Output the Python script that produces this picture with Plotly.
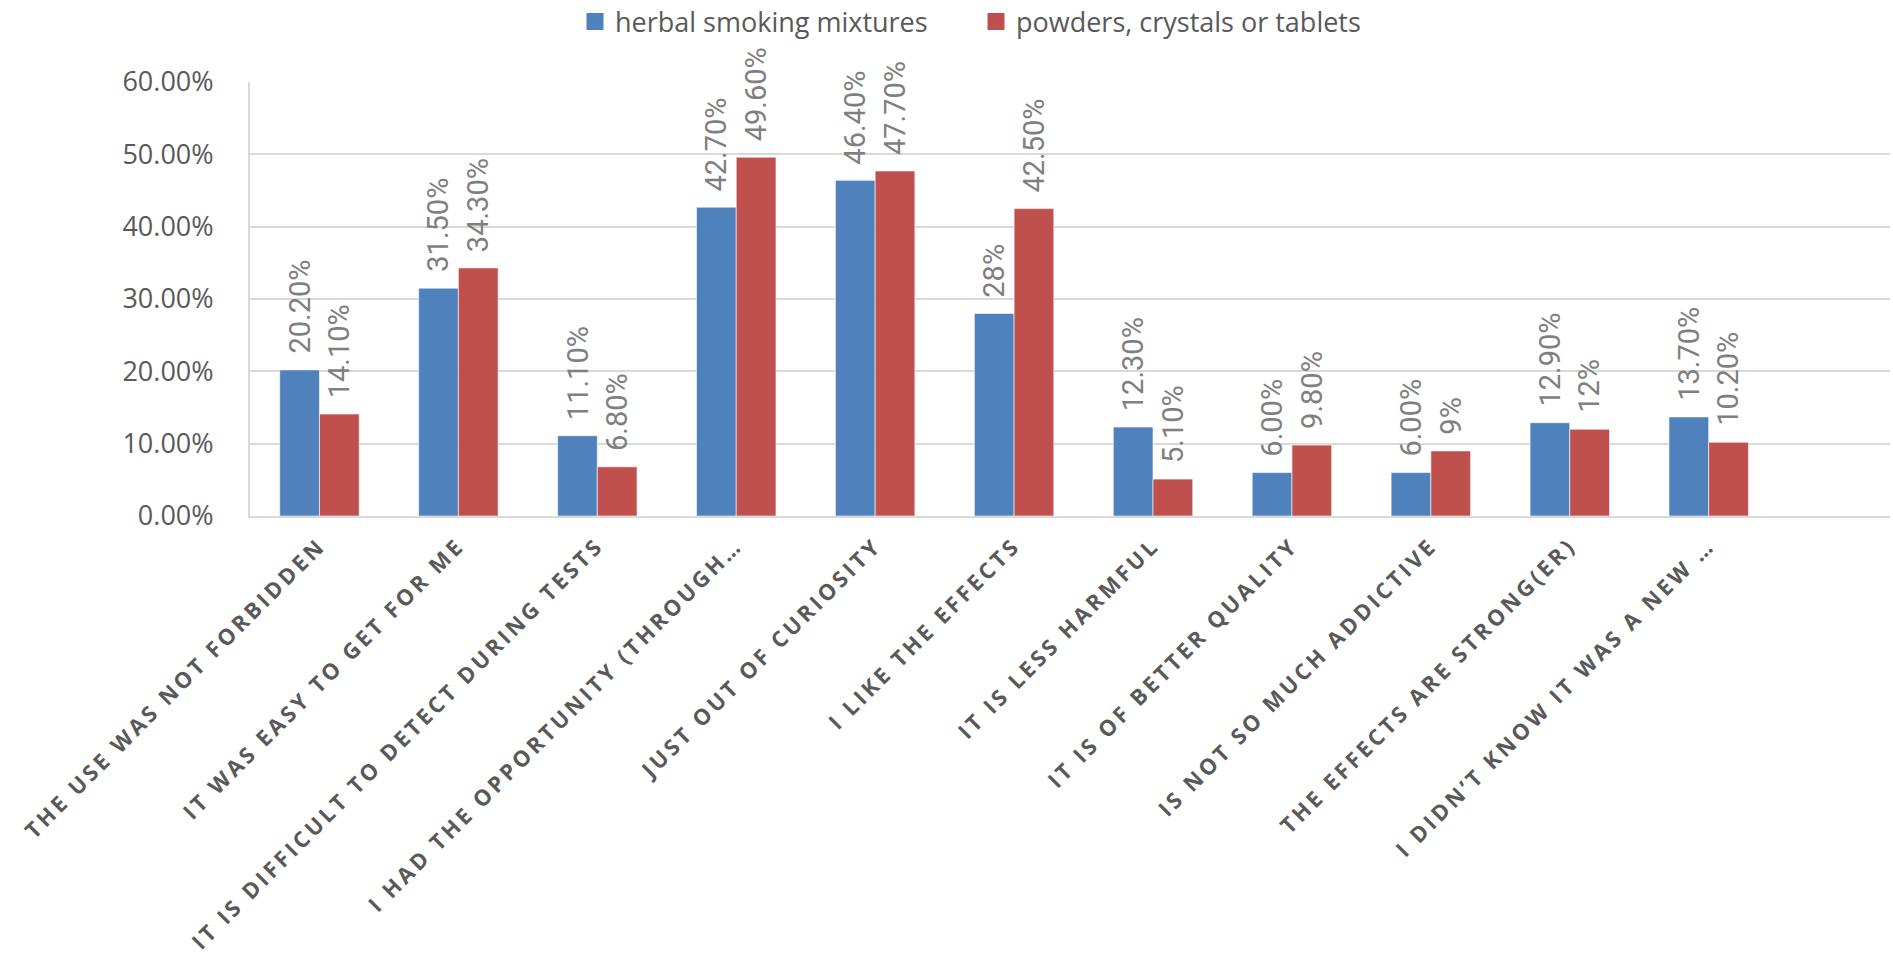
import plotly.graph_objects as go

categories = [
    "THE USE WAS NOT FORBIDDEN",
    "IT WAS EASY TO GET FOR ME",
    "IT IS DIFFICULT TO DETECT DURING TESTS",
    "I HAD THE OPPORTUNITY (THROUGH…",
    "JUST OUT OF CURIOSITY",
    "I LIKE THE EFFECTS",
    "IT IS LESS HARMFUL",
    "IT IS OF BETTER QUALITY",
    "IS NOT SO MUCH ADDICTIVE",
    "THE EFFECTS ARE STRONG(ER)",
    "I DIDN’T KNOW IT WAS A NEW …",
]
herbal = [0.202, 0.315, 0.111, 0.427, 0.464, 0.28, 0.123, 0.06, 0.06, 0.129, 0.137]
herbal_labels = ["20.20%", "31.50%", "11.10%", "42.70%", "46.40%", "28%",
                 "12.30%", "6.00%", "6.00%", "12.90%", "13.70%"]
powders = [0.141, 0.343, 0.068, 0.496, 0.477, 0.425, 0.051, 0.098, 0.09, 0.12, 0.102]
powders_labels = ["14.10%", "34.30%", "6.80%", "49.60%", "47.70%", "42.50%",
                  "5.10%", "9.80%", "9%", "12%", "10.20%"]
series_names = ["herbal smoking mixtures", "powders, crystals or tablets"]

BLUE = "#4F81BD"
RED = "#C0504D"
W, H = 1893, 961
L, R, T, B = 250, 3, 82, 445
plot_w = W - L - R
plot_h = H - T - B

fig = go.Figure()
for vals, name, col in ((herbal, series_names[0], BLUE), (powders, series_names[1], RED)):
    fig.add_trace(go.Bar(
        x=categories, y=vals, name=name,
        marker=dict(color=col, line=dict(color="rgba(255,255,255,0.6)", width=1)),
        showlegend=False, hoverinfo="skip",
    ))

# legend entries (square swatches)
for name, col, lg in ((series_names[0], BLUE, "legend"), (series_names[1], RED, "legend2")):
    fig.add_trace(go.Scatter(
        x=[None], y=[None], mode="markers", name=name,
        marker=dict(symbol="square", size=14, color=col, line=dict(width=3, color=col)),
        legend=lg, hoverinfo="skip",
    ))

# data labels
cat_px = plot_w / 11.805
bar_px = cat_px * (1 - 0.428) / 2
label_font = dict(family="Liberation Sans Narrow, Roboto, sans-serif", size=29, color="#7F7F7F")
annotations = []
for vals, labs, sgn in ((herbal, herbal_labels, -1), (powders, powders_labels, 1)):
    for c, v, t in zip(categories, vals, labs):
        annotations.append(dict(
            x=c, y=v, xref="x", yref="y", text=t, showarrow=False,
            textangle=-90, xanchor="center", yanchor="bottom",
            xshift=sgn * bar_px / 2, yshift=14, font=label_font,
        ))

legend_common = dict(
    orientation="h", yanchor="middle", xanchor="left",
    font=dict(family="Open Sans, sans-serif", size=27, color="#595959"),
    bgcolor="rgba(0,0,0,0)",
)
fig.update_layout(
    width=W, height=H,
    margin=dict(l=L, r=R, t=T, b=B, autoexpand=False),
    paper_bgcolor="white", plot_bgcolor="white",
    barmode="group", bargap=0.428, bargroupgap=0,
    showlegend=True,
    legend=dict(x=(575 - L) / plot_w, y=1 + (T - 22) / plot_h, **legend_common),
    legend2=dict(x=(976 - L) / plot_w, y=1 + (T - 22) / plot_h, **legend_common),
    annotations=annotations,
    xaxis=dict(
        range=[-0.5, 11.305], tickangle=-45,
        tickfont=dict(family="Open Sans, sans-serif", size=22, color="#595959", weight=700),
        showline=True, linecolor="#D9D9D9", linewidth=2,
        showgrid=False, ticks="", automargin=False, ticklabelstandoff=6,
    ),
    yaxis=dict(
        range=[0, 0.6], dtick=0.1, tickformat=".2%",
        tickfont=dict(family="Open Sans, sans-serif", size=27, color="#595959"),
        showgrid=True, gridcolor="#D9D9D9", gridwidth=2,
        showline=True, linecolor="#D9D9D9", linewidth=2,
        zeroline=False, ticks="", ticklabelstandoff=29, automargin=False,
    ),
)

post = """
document.querySelectorAll('.xtick text').forEach(function(t){ t.style.letterSpacing = '3.3px'; });
"""
fig.write_html("out.html", post_script=post)
